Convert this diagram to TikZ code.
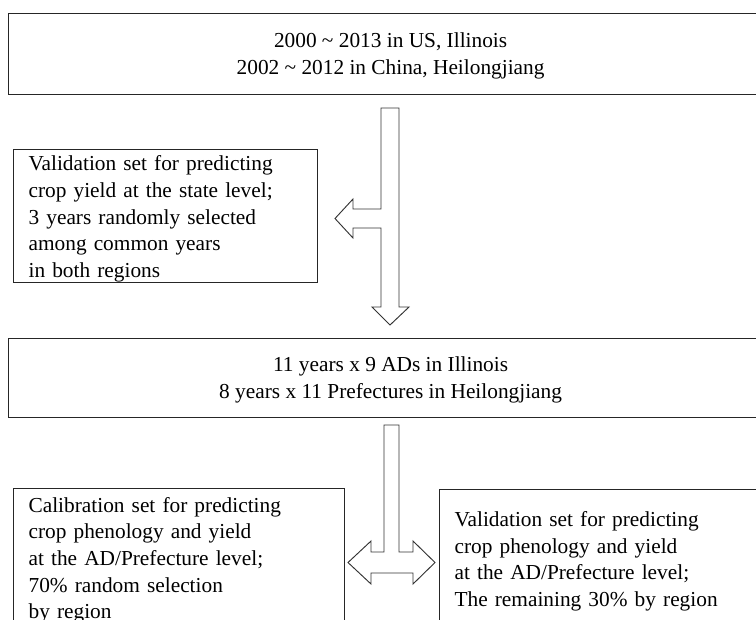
\documentclass[tikz,border=0pt]{standalone}
\usepackage{fontspec}
\setmainfont{Liberation Serif}
\usetikzlibrary{positioning}

\begin{document}
\begin{tikzpicture}[x=0.75pt,y=-0.75pt,
  box/.style={draw=black!85,line width=0.9pt,anchor=north west,inner ysep=0pt,
    font=\fontsize{16}{20}\selectfont},
  leftbox/.style={box,align=left,inner xsep=11.25pt,
    execute at begin node={\rule{0pt}{15.5pt}}},
  widebox/.style={box,align=center,minimum width=573pt,text height=34pt,text depth=4pt},
  bigarrow/.style={draw=black!80,line width=0.7pt,fill=white,line join=miter}]
  \useasboundingbox (0,0) rectangle (756,619);
  % study periods (box runs off the right edge)
  \node[widebox,minimum height=60.75pt] (period) at (8,13)
    {2000 \textasciitilde{} 2013 in US, Illinois\\2002 \textasciitilde{} 2012 in China, Heilongjiang};
  % state level validation
  \node[leftbox,text width=205.5pt,minimum height=99.75pt] (stateval) at (13,149)
    {Validation set for predicting\\crop yield at the state level;\\3 years randomly selected\\among common years\\in both regions};
  % split arrow: down and left
  \draw[bigarrow] (381,108) -- (399,108) -- (399,307) -- (409,307) -- (390,325) -- (372,307)
    -- (381,307) -- (381,228) -- (353,228) -- (353,238) -- (335,218.5) -- (353,199)
    -- (353,209) -- (381,209) -- cycle;
  % remaining samples
  \node[widebox,minimum height=59.25pt] (samples) at (8,338)
    {11 years x 9 ADs in Illinois\\8 years x 11 Prefectures in Heilongjiang};
  % split arrow: left and right
  \draw[bigarrow] (384,425) -- (399,425) -- (399,552) -- (413,552) -- (413,541) -- (435,562.5)
    -- (413,584) -- (413,573) -- (371,573) -- (371,584) -- (348,562.5) -- (371,541)
    -- (371,552) -- (384,552) -- cycle;
  % calibration and validation at AD/prefecture level
  \node[leftbox,text width=225.75pt,minimum height=103.5pt] (calib) at (13,488)
    {Calibration set for predicting\\crop phenology and yield\\at the AD/Prefecture level;\\70\% random selection\\by region};
  \node[leftbox,text width=229.5pt,minimum height=103.5pt] (prefval) at (439,489)
    {Validation set for predicting\\crop phenology and yield\\at the AD/Prefecture level;\\The remaining 30\% by region};
\end{tikzpicture}
\end{document}
